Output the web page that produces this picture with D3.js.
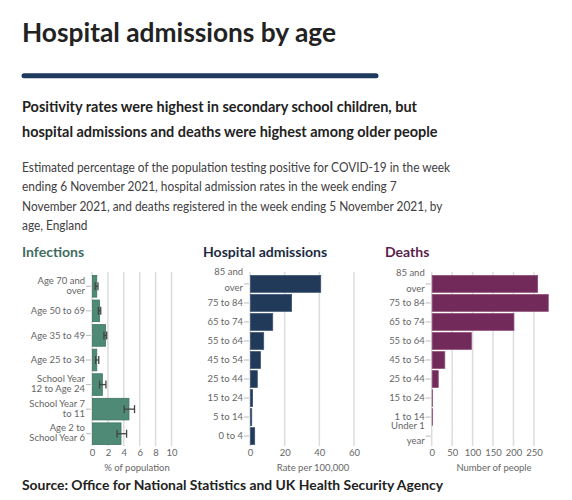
<!DOCTYPE html>
<html>
<head>
<meta charset="utf-8">
<script src="https://cdn.jsdelivr.net/npm/d3@7"></script>
<style>
  html, body { margin: 0; padding: 0; background: #fff; }
  svg { display: block; font-family: Lato, "Open Sans", sans-serif; }
</style>
</head>
<body>
<svg id="chart" width="572" height="500"></svg>
<script>
// ---------- DATA ----------
const titleText = "Hospital admissions by age";
const subtitleLines = [
  "Positivity rates were highest in secondary school children, but",
  "hospital admissions and deaths were highest among older people"
];
const descriptionLines = [
  "Estimated percentage of the population testing positive for COVID-19 in the week",
  "ending 6 November 2021, hospital admission rates in the week ending 7",
  "November 2021, and deaths registered in the week ending 5 November 2021, by",
  "age, England"
];
const sourceText = "Source: Office for National Statistics and UK Health Security Agency";

const infCategories = ["Age 70 and\nover", "Age 50 to 69", "Age 35 to 49", "Age 25 to 34",
  "School Year\n12 to Age 24", "School Year 7\nto 11", "Age 2 to\nSchool Year 6"];
const infValues = [0.6, 0.95, 1.7, 0.6, 1.3, 4.65, 3.65];
const infLower  = [0.4, 0.8, 1.5, 0.45, 0.95, 4.05, 3.15];
const infUpper  = [0.75, 1.1, 1.85, 0.85, 1.75, 5.35, 4.35];
const infTicks = [0, 2, 4, 6, 8, 10];

const hospCategories = ["85 and\nover", "75 to 84", "65 to 74", "55 to 64", "45 to 54",
  "25 to 44", "15 to 24", "5 to 14", "0 to 4"];
const hospValues = [40.8, 24, 13.1, 7.9, 6, 4.2, 1.5, 1, 2.7];
const hospTicks = [0, 20, 40, 60];

const deathCategories = ["85 and\nover", "75 to 84", "65 to 74", "55 to 64", "45 to 54",
  "25 to 44", "15 to 24", "1 to 14", "Under 1\nyear"];
const deathValues = [259, 285, 201, 97, 32, 16, 2, 2, 0];
const deathTicks = [0, 50, 100, 150, 200, 250];

// ---------- HELPERS ----------
const svg = d3.select("#chart");
function measure(str, size, weight) {
  const t = svg.append("text").attr("font-size", size).attr("font-weight", weight).text(str);
  const w = t.node().getComputedTextLength();
  t.remove();
  return w;
}
function fitSize(str, weight, targetW) {
  return 20 * targetW / measure(str, 20, weight);
}
// draw a block of lines at a given size, horizontally scaled so the first line has width targetW
function textBlock(lines, x, y0, lh, size, weight, color, targetW) {
  const k = targetW / measure(lines[0], size, weight);
  lines.forEach((ln, i) => {
    const w = measure(ln, size, weight) * k;
    svg.append("text").attr("x", x).attr("y", y0 + i * lh)
      .attr("font-size", size).attr("font-weight", weight).attr("fill", color)
      .attr("textLength", w).attr("lengthAdjust", "spacingAndGlyphs").text(ln);
  });
}

const panelFs = fitSize("Hospital admissions", 700, 124.3);
const fs = fitSize("Age 50 to 69", 400, 54.3);

// ---------- DRAW ----------
textBlock([titleText], 22, 42, 0, 26, 700, "#222", 314);

svg.append("line").attr("x1", 24).attr("x2", 376).attr("y1", 75.8).attr("y2", 75.8)
  .attr("stroke", "#1d3a5c").attr("stroke-width", 5).attr("stroke-linecap", "round");

textBlock(subtitleLines, 22, 112, 25, 14.3, 700, "#222", 395);
textBlock(descriptionLines, 22, 171.5, 19.5, 13.6, 400, "#414042", 428);
textBlock([sourceText], 22, 489.5, 0, 13.2, 700, "#222", 421);

const labelColor = "#666";

function panel(opts) {
  const g = svg.append("g");
  const x = d3.scaleLinear().domain(opts.domain).range(opts.xRange);
  const y = d3.scaleBand().domain(opts.categories).range([275, 445])
    .paddingInner(opts.padInner).paddingOuter(opts.padOuter);

  g.append("text").attr("x", opts.titleX).attr("y", 257)
    .attr("font-size", panelFs).attr("font-weight", 700).attr("fill", opts.titleColor)
    .text(opts.title);

  // gridlines
  g.selectAll(".grid").data(opts.ticks).join("line")
    .attr("x1", d => x(d)).attr("x2", d => x(d))
    .attr("y1", 272).attr("y2", 446)
    .attr("stroke", "#dcdcdc").attr("stroke-width", 1.5);

  // x axis labels
  const xAxis = d3.axisBottom(x).tickValues(opts.ticks).tickSize(0).tickPadding(0).tickFormat(d3.format("d"));
  const xa = g.append("g").attr("transform", "translate(0,451)").call(xAxis);
  xa.select(".domain").remove();
  xa.selectAll("text").attr("font-family", "Lato, sans-serif")
    .attr("font-size", fs).attr("fill", labelColor).attr("dy", "0.5em");

  g.append("text").attr("x", opts.axisTitleX).attr("y", 471)
    .attr("text-anchor", "middle").attr("font-size", fs).attr("fill", labelColor)
    .text(opts.axisTitle);

  // y axis ticks
  const yAxis = d3.axisLeft(y).tickSize(5).tickPadding(3).tickFormat("");
  const ya = g.append("g").attr("transform", `translate(${x(0) - 1},0)`).call(yAxis);
  ya.select(".domain").remove();
  ya.selectAll("line").attr("stroke", "#bbb");

  // y labels
  opts.categories.forEach(c => {
    const lines = c.split("\n");
    const cy = y(c) + y.bandwidth() / 2;
    const t = g.append("text").attr("text-anchor", "end").attr("font-size", fs).attr("fill", labelColor);
    lines.forEach((ln, i) => {
      const by = lines.length === 1 ? cy + 3.3 : cy + opts.multiStart + i * opts.lineGap;
      t.append("tspan").attr("x", x(0) - 7).attr("y", by).text(ln);
    });
  });

  // bars
  g.selectAll(".bar").data(opts.values).join("rect")
    .attr("x", x(0) + 0.5)
    .attr("y", (d, i) => y(opts.categories[i]))
    .attr("width", d => Math.max(0, x(d) - x(0) - 0.5))
    .attr("height", y.bandwidth())
    .attr("fill", opts.color).attr("stroke", opts.stroke).attr("stroke-width", 0.8);

  return { g, x, y };
}

const inf = panel({
  title: "Infections", titleX: 22, titleColor: "#3f6d64",
  categories: infCategories, values: infValues, domain: [0, 10], xRange: [92, 171.5],
  ticks: infTicks, axisTitle: "% of population", axisTitleX: 137,
  padInner: 0.12, padOuter: 0.02, color: "#4f8a77", stroke: "#3e7363",
  multiStart: -2.5, lineGap: 10
});
// error bars
infValues.forEach((v, i) => {
  const c = infCategories[i];
  const cy = inf.y(c) + inf.y.bandwidth() / 2;
  const x1 = inf.x(infLower[i]), x2 = inf.x(infUpper[i]);
  const eg = inf.g.append("g").attr("stroke", "#444").attr("stroke-width", 1.3);
  eg.append("line").attr("x1", x1).attr("x2", x2).attr("y1", cy).attr("y2", cy);
  eg.append("line").attr("x1", x1).attr("x2", x1).attr("y1", cy - 4).attr("y2", cy + 4);
  eg.append("line").attr("x1", x2).attr("x2", x2).attr("y1", cy - 4).attr("y2", cy + 4);
});

panel({
  title: "Hospital admissions", titleX: 203, titleColor: "#1c2b44",
  categories: hospCategories, values: hospValues, domain: [0, 60], xRange: [250, 354],
  ticks: hospTicks, axisTitle: "Rate per 100,000", axisTitleX: 313,
  padInner: 0.12, padOuter: 0.03, color: "#223a5a", stroke: "#3a5170",
  multiStart: -8.5, lineGap: 15.5
});

panel({
  title: "Deaths", titleX: 385, titleColor: "#5b1f4d",
  categories: deathCategories, values: deathValues, domain: [0, 290], xRange: [431.7, 550.3],
  ticks: deathTicks, axisTitle: "Number of people", axisTitleX: 494,
  padInner: 0.12, padOuter: 0.03, color: "#722a5b", stroke: "#8a4a74",
  multiStart: -7.5, lineGap: 15.5
});
</script>
</body>
</html>
